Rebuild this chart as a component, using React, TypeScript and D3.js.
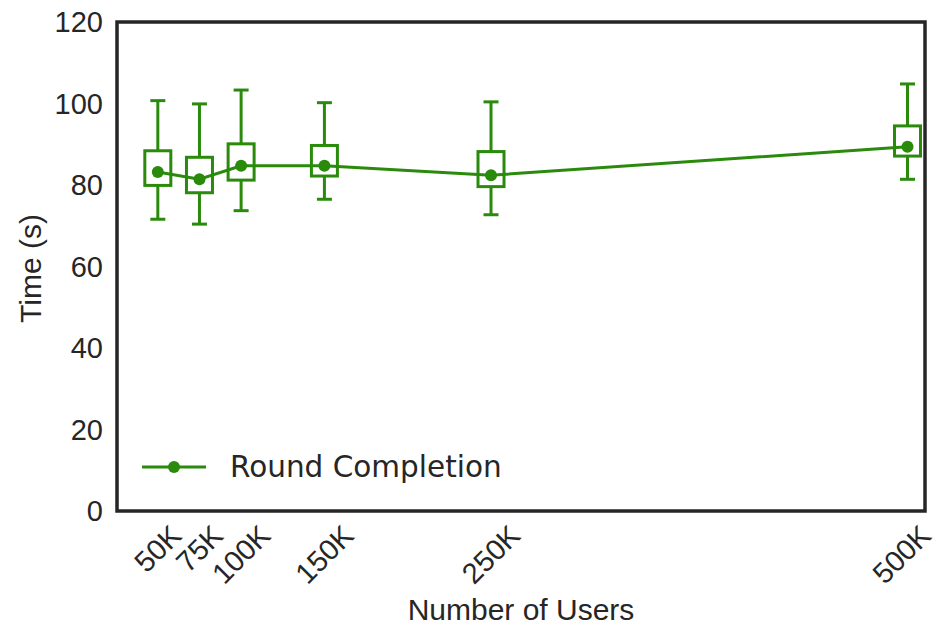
import React, { useEffect, useRef } from 'react';
import * as d3 from 'd3';

// values (thousands of users / seconds)
const users = [50, 75, 100, 150, 250, 500];
const tickLabels = ['50K', '75K', '100K', '150K', '250K', '500K'];
const medians = [83.2, 81.4, 84.7, 84.7, 82.4, 89.4];
const q1 = [79.9, 78.1, 81.2, 82.2, 79.6, 87.1];
const q3 = [88.4, 86.8, 90.1, 89.7, 88.2, 94.5];
const whiskLow = [71.6, 70.4, 73.7, 76.5, 72.7, 81.4];
const whiskHigh = [100.7, 99.9, 103.3, 100.2, 100.4, 104.8];
const yTicks = [0, 20, 40, 60, 80, 100, 120];

const W = 938;
const H = 626;
const green = '#2a8a0c';
const ink = '#262626';
const sw = 3;

const App = () => {
  const svgRef = useRef<SVGSVGElement>(null);

  useEffect(() => {
    const svg = d3.select(svgRef.current);
    svg.selectAll('*').remove();

    const left = 117, right = 925, top = 22, bottom = 511;

    const x = d3.scaleLinear().domain([25.5, 510.5]).range([left, right]);
    const y = d3.scaleLinear().domain([0, 120]).range([bottom, top]);

    const rows = users.map((u, i) => ({
      u, label: tickLabels[i], med: medians[i], lo: q1[i], hi: q3[i], wl: whiskLow[i], wh: whiskHigh[i]
    }));

    const g = svg.append('g');

    // whiskers + boxes
    const boxW = 26, capW = 15;
    rows.forEach(d => {
      const cx = x(d.u);
      const seg = (x1: number, x2: number, y1: number, y2: number) =>
        g.append('line').attr('x1', x1).attr('x2', x2).attr('y1', y1).attr('y2', y2)
          .attr('stroke', green).attr('stroke-width', sw);
      seg(cx, cx, y(d.hi), y(d.wh));
      seg(cx, cx, y(d.lo), y(d.wl));
      seg(cx - capW / 2, cx + capW / 2, y(d.wh), y(d.wh));
      seg(cx - capW / 2, cx + capW / 2, y(d.wl), y(d.wl));
      g.append('rect').attr('x', cx - boxW / 2).attr('y', y(d.hi)).attr('width', boxW)
        .attr('height', y(d.lo) - y(d.hi)).attr('fill', 'white').attr('stroke', green).attr('stroke-width', sw);
    });

    const line = d3.line<any>().x(d => x(d.u)).y(d => y(d.med));
    g.append('path').datum(rows).attr('d', line).attr('fill', 'none')
      .attr('stroke', green).attr('stroke-width', sw);
    g.selectAll('circle.med').data(rows).enter().append('circle')
      .attr('cx', d => x(d.u)).attr('cy', d => y(d.med)).attr('r', 6).attr('fill', green);

    // frame
    svg.append('rect').attr('x', left).attr('y', top).attr('width', right - left).attr('height', bottom - top)
      .attr('fill', 'none').attr('stroke', ink).attr('stroke-width', 3.5);

    // y ticks
    svg.selectAll('text.yt').data(yTicks).enter().append('text')
      .attr('x', 103).attr('y', d => y(d)).attr('text-anchor', 'end').attr('dominant-baseline', 'central')
      .attr('font-family', 'Liberation Sans, Arial').attr('font-size', 29).attr('fill', ink)
      .text(d => d);

    // x ticks rotated 45, centred on the tick (last one nudged to stay inside)
    rows.forEach(d => {
      const t = svg.append('text').attr('text-anchor', 'middle').attr('dominant-baseline', 'central')
        .attr('font-family', 'Liberation Sans, Arial').attr('font-size', 29).attr('fill', ink)
        .text(d.label);
      const len = (t.node() as SVGTextElement).getComputedTextLength();
      const half = (len + 21) * Math.SQRT1_2 / 2;
      const cx = Math.min(x(d.u), 933 - half), cy = 523 + half;
      t.attr('x', cx).attr('y', cy).attr('transform', `rotate(-45,${cx},${cy})`);
    });

    svg.append('text').attr('x', (left + right) / 2).attr('y', 620).attr('text-anchor', 'middle')
      .attr('font-family', 'Liberation Sans, Arial').attr('font-size', 30).attr('fill', ink)
      .text('Number of Users');
    svg.append('text').attr('transform', `translate(41,${(top + bottom) / 2 + 2}) rotate(-90)`)
      .attr('text-anchor', 'middle')
      .attr('font-family', 'Liberation Sans, Arial').attr('font-size', 30).attr('fill', ink)
      .text('Time (s)');

    // legend
    const ly = 467;
    svg.append('line').attr('x1', 142).attr('x2', 206).attr('y1', ly).attr('y2', ly)
      .attr('stroke', green).attr('stroke-width', sw);
    svg.append('circle').attr('cx', 174).attr('cy', ly).attr('r', 6).attr('fill', green);
    svg.append('text').attr('x', 230).attr('y', ly + 10)
      .attr('font-family', 'DejaVu Sans').attr('font-size', 29.5).attr('fill', ink)
      .text('Round Completion');
  }, []);

  return <svg ref={svgRef} width={W} height={H}
    style={{ position: 'absolute', left: 0, top: 0, background: 'white' }} />;
};

export default App;
